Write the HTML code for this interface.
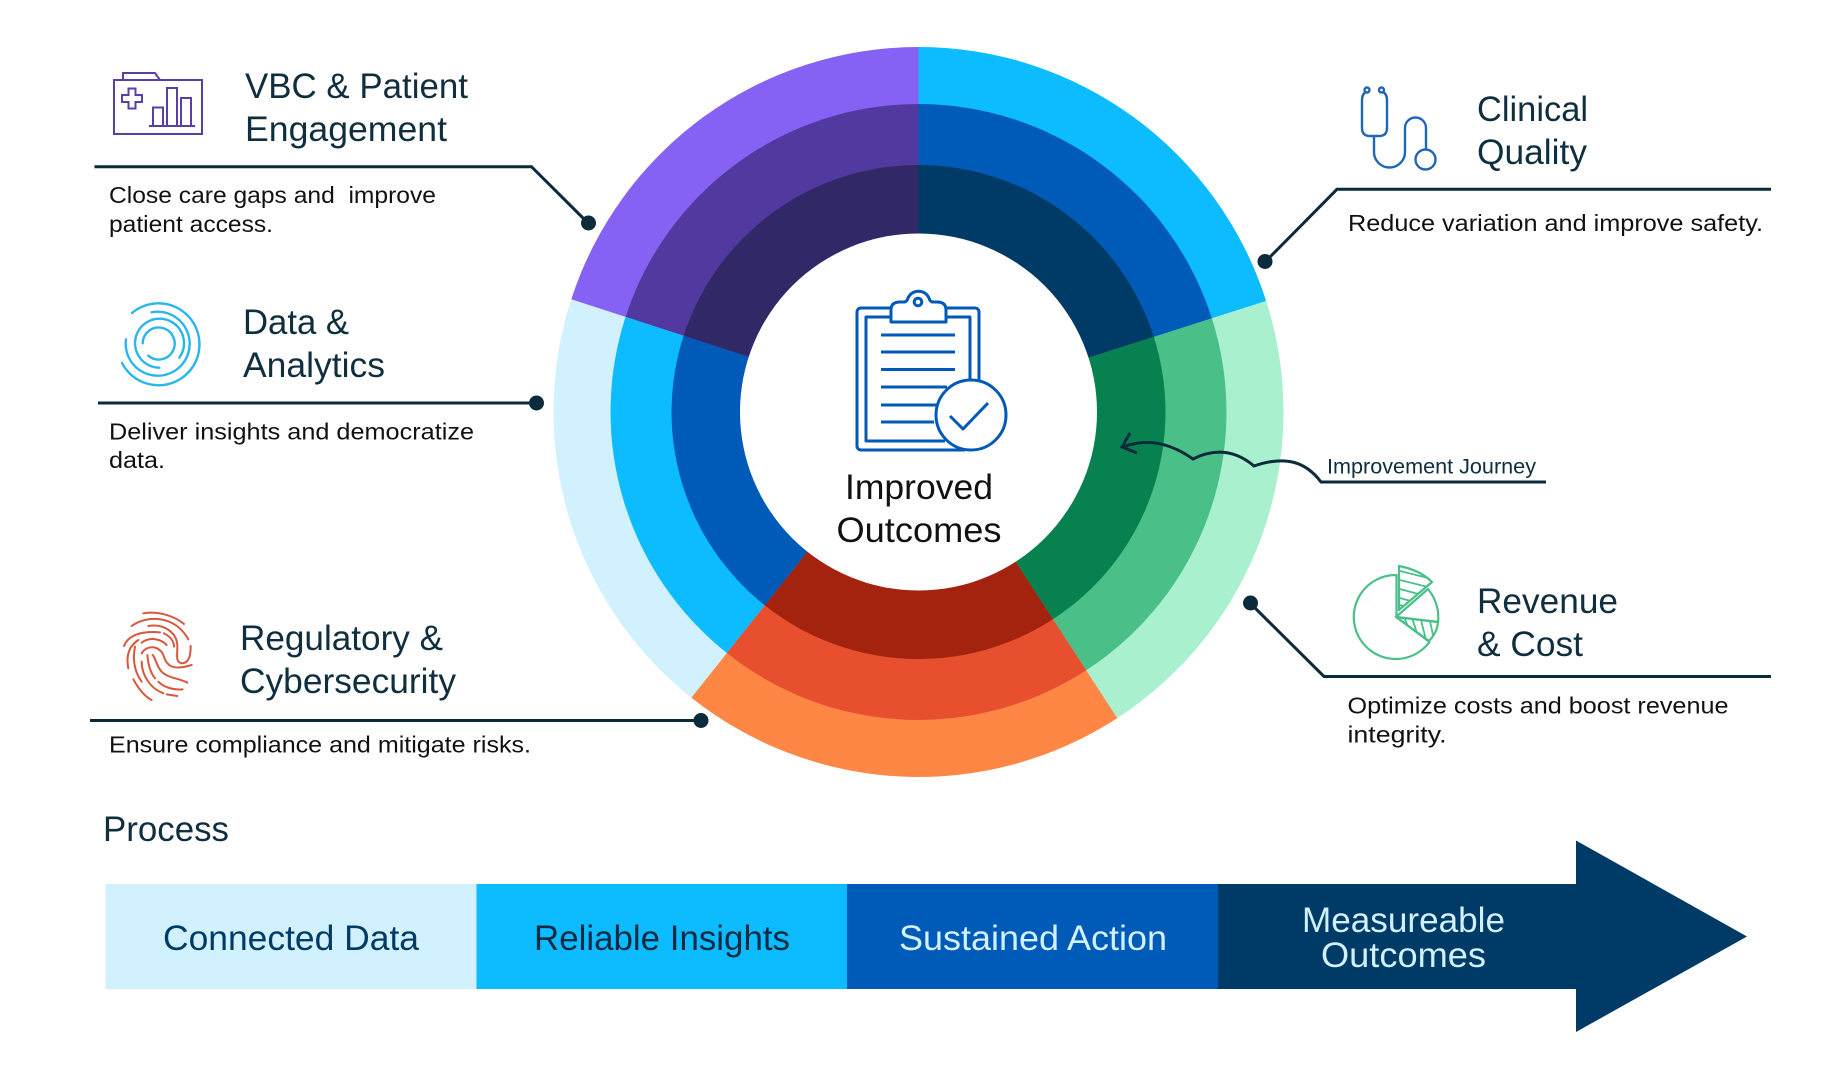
<!DOCTYPE html>
<html><head><meta charset="utf-8"><title>Improved Outcomes</title>
<style>
html,body{margin:0;padding:0;background:#fff;width:1837px;height:1084px;overflow:hidden}
svg{display:block}
text{font-family:"Liberation Sans",sans-serif}
.h{font-size:35px;fill:#0f2e3e}
.b{font-size:23.5px;fill:#111}
.l{stroke:#0b2a3b;stroke-width:3;fill:none}
.d{fill:#0b2a3b}
.p{font-size:35px}
</style></head><body>
<svg width="1837" height="1084" viewBox="0 0 1837 1084" xmlns="http://www.w3.org/2000/svg">
<defs>
<clipPath id="w1"><path d="M1399 566V610L1432 582Q1420 570 1399 566Z"/></clipPath>
<clipPath id="w2"><path d="M1396 617L1438 622Q1437 633 1429 641Z"/></clipPath>
</defs>
<rect width="1837" height="1084" fill="#fff"/>
<g transform="translate(-0.5,0)">
<path fill="#0DBBFF" d="M919 412L919 47A365 365 0 0 1 1266.7 301Z"/>
<path fill="#A9F0CF" d="M919 412L1266.7 301A365 365 0 0 1 1117.8 718.1Z"/>
<path fill="#FF8745" d="M919 412L1117.8 718.1A365 365 0 0 1 691.8 697.6Z"/>
<path fill="#D1F1FE" d="M919 412L691.8 697.6A365 365 0 0 1 571.8 299.2Z"/>
<path fill="#8562F4" d="M919 412L571.8 299.2A365 365 0 0 1 919 47Z"/>
<path fill="#005BB8" d="M919 412L919 104A308 308 0 0 1 1212.4 318.4Z"/>
<path fill="#4AC088" d="M919 412L1212.4 318.4A308 308 0 0 1 1086.7 670.3Z"/>
<path fill="#E84F2F" d="M919 412L1086.7 670.3A308 308 0 0 1 727.3 653Z"/>
<path fill="#0DBBFF" d="M919 412L727.3 653A308 308 0 0 1 626.1 316.8Z"/>
<path fill="#52399F" d="M919 412L626.1 316.8A308 308 0 0 1 919 104Z"/>
<path fill="#003A66" d="M919 412L919 165A247 247 0 0 1 1154.3 336.9Z"/>
<path fill="#07814F" d="M919 412L1154.3 336.9A247 247 0 0 1 1053.5 619.2Z"/>
<path fill="#A3230E" d="M919 412L1053.5 619.2A247 247 0 0 1 765.2 605.3Z"/>
<path fill="#005BB8" d="M919 412L765.2 605.3A247 247 0 0 1 684.1 335.7Z"/>
<path fill="#312967" d="M919 412L684.1 335.7A247 247 0 0 1 919 165Z"/>
<circle cx="919" cy="412" r="178.5" fill="#fff"/>
</g>

<!-- clipboard -->
<g fill="none" stroke="#0059B8" stroke-width="3" stroke-linejoin="round">
<path d="M890 308H861a4 4 0 0 0-4 4V446a4 4 0 0 0 4 4H965"/>
<path d="M946 308H975a4 4 0 0 1 4 4V380"/>
<path d="M890 317H866V441H945"/>
<path d="M946 317H970V382"/>
<path d="M891 322V310q0-8 9-8h4q3 0 4-4a11.500 11.500 0 0 1 21 0q1 4 4 4h4q9 0 9 8V322Z"/>
<circle cx="918" cy="302" r="3.800"/>
<path d="M881 335H955M881 352H955M881 369.500H955M881 387H947M881 405H937M881 422H934"/>
<circle cx="971" cy="415" r="35" fill="#fff"/>
<path d="M950 416L963 429L988 403" stroke-width="3"/>
</g>
<text x="919" y="499" text-anchor="middle" fill="#111" font-size="35" textLength="148" lengthAdjust="spacingAndGlyphs">Improved</text>
<text x="919" y="542" text-anchor="middle" fill="#111" font-size="35" textLength="165" lengthAdjust="spacingAndGlyphs">Outcomes</text>

<!-- VBC -->
<g fill="none" stroke="#5B3FA6" stroke-width="2">
<path d="M114 80H202V134H114Z"/>
<path d="M123 80V73H155L160 80"/>
<path d="M128.500 88.500h7v6.500h6.500v7h-6.500v6.500h-7v-6.500h-6.500v-7h6.500Z"/>
<path d="M149 126H195M153 126V107.500H163V126M167 126V88H177V126M181 126V98H191V126"/>
</g>
<text x="245" y="98" class="h" textLength="223" lengthAdjust="spacingAndGlyphs">VBC &amp; Patient</text>
<text x="245" y="141" class="h" textLength="202" lengthAdjust="spacingAndGlyphs">Engagement</text>
<path class="l" d="M94.500 166.700H531.500L588 223"/><circle class="d" cx="588.500" cy="223" r="7.500"/>
<text x="109" y="203" class="b" textLength="327" lengthAdjust="spacingAndGlyphs">Close care gaps and&#160; improve</text>
<text x="109" y="232" class="b" textLength="164" lengthAdjust="spacingAndGlyphs">patient access.</text>

<!-- Data -->
<g fill="none" stroke="#29B6EC" stroke-width="2.400" stroke-linecap="round">
<path d="M132 313A41 41 0 1 1 122 363"/>
<path d="M151.700 312.300A32 32 0 1 1 126 339.300"/>
<path d="M159.300 367.700A24.500 24.500 0 1 1 179.300 357.700"/>
<path d="M142.700 343.300A16 16 0 1 1 148.300 355.700"/>
</g>
<text x="243" y="334" class="h" textLength="106" lengthAdjust="spacingAndGlyphs">Data &amp;</text>
<text x="243" y="377" class="h" textLength="142" lengthAdjust="spacingAndGlyphs">Analytics</text>
<path class="l" d="M98 403H536"/><circle class="d" cx="536.500" cy="403" r="7.500"/>
<text x="109" y="439.500" class="b" textLength="365" lengthAdjust="spacingAndGlyphs">Deliver insights and democratize</text>
<text x="109" y="468" class="b" textLength="56" lengthAdjust="spacingAndGlyphs">data.</text>

<!-- Regulatory -->
<g transform="translate(100,600) scale(.33333)" fill="none" stroke="#D9573C" stroke-width="6" stroke-linecap="round">
<path d="M130 40C170 33 220 45 252 72"/>
<path d="M95 78C140 45 225 45 265 118"/>
<path d="M72 138C85 105 125 92 180 97"/>
<path d="M145 78C195 70 230 100 232 135C233 165 225 185 245 190C268 190 272 165 272 138"/>
<path d="M192 100C212 110 222 125 222 140"/>
<path d="M125 128C150 108 185 118 200 135"/>
<path d="M85 205C78 170 85 140 115 120"/>
<path d="M105 140C95 190 110 225 125 245"/>
<path d="M100 238C115 265 135 290 155 300"/>
<path d="M125 185C125 225 150 265 190 280"/>
<path d="M125 160C140 135 175 135 190 165C200 200 220 212 275 195"/>
<path d="M142 165C145 195 150 215 165 235"/>
<path d="M158 165C165 170 170 200 185 215C205 235 240 235 262 248"/>
<path d="M175 245C195 265 225 270 248 268"/>
<path d="M200 283L232 288"/>
</g>
<text x="240" y="650" class="h" textLength="203" lengthAdjust="spacingAndGlyphs">Regulatory &amp;</text>
<text x="240" y="693" class="h" textLength="216" lengthAdjust="spacingAndGlyphs">Cybersecurity</text>
<path class="l" d="M90 720.500H701"/><circle class="d" cx="701" cy="720.500" r="7.500"/>
<text x="109" y="752.500" class="b" textLength="422" lengthAdjust="spacingAndGlyphs">Ensure compliance and mitigate risks.</text>

<!-- Clinical -->
<g fill="none" stroke="#1F66B5" stroke-width="2.400">
<circle cx="1367" cy="90" r="2.500"/><circle cx="1381.500" cy="90" r="2.500"/>
<path d="M1366 92Q1362 94 1362 100V128Q1362 136 1370 136H1379Q1387 136 1387 128V100Q1387 94 1383 92"/>
<path d="M1374 136V152A15.500 15.500 0 0 0 1405 152V128A10.500 10.500 0 0 1 1426 128V149"/>
<circle cx="1425.500" cy="159.500" r="10"/>
</g>
<text x="1477" y="121" class="h" textLength="111" lengthAdjust="spacingAndGlyphs">Clinical</text>
<text x="1477" y="164" class="h" textLength="110" lengthAdjust="spacingAndGlyphs">Quality</text>
<path class="l" d="M1771 189.300H1337L1265 262"/><circle class="d" cx="1265" cy="261.500" r="7.500"/>
<text x="1348" y="231" class="b" textLength="415" lengthAdjust="spacingAndGlyphs">Reduce variation and improve safety.</text>

<!-- journey -->
<path fill="none" stroke="#0b2a3b" stroke-width="3" d="M1546 482H1321C1306 462 1286 455 1254 466C1241 455 1221 445 1193 459C1176 447 1151 436 1123 447M1130 433L1122 447L1137 453"/>
<text x="1327" y="473.500" font-size="21" fill="#0f2e3e" textLength="209" lengthAdjust="spacingAndGlyphs">Improvement Journey</text>

<!-- Revenue -->
<g fill="none" stroke="#48C087" stroke-width="2.200" stroke-linejoin="round">
<path d="M1396 575A42 42 0 1 0 1429 642L1396 617Z" transform="translate(.5,0)"/>
<path d="M1399 566V610L1432 582Q1420 570 1399 566Z"/>
<path d="M1396 617L1428 589Q1440 604 1438 622Z"/>
<path d="M1396 617L1438 622Q1437 633 1429 641Z"/>
<g clip-path="url(#w1)" stroke-width="1.800"><path d="M1396 570L1428 578M1396 579L1432 588M1396 588L1426 596M1396 597L1418 603M1396 604L1410 608"/></g>
<g clip-path="url(#w2)" stroke-width="1.800"><path d="M1402 612L1411 634M1410 612L1420 642M1419 612L1427 644M1428 612L1435 644"/></g>
</g>
<text x="1477" y="613" class="h" textLength="141" lengthAdjust="spacingAndGlyphs">Revenue</text>
<text x="1477" y="656" class="h" textLength="106" lengthAdjust="spacingAndGlyphs">&amp; Cost</text>
<path class="l" d="M1250 603L1324 676.500H1771"/><circle class="d" cx="1250.500" cy="603" r="7.500"/>
<text x="1347.500" y="713.500" class="b" textLength="381" lengthAdjust="spacingAndGlyphs">Optimize costs and boost revenue</text>
<text x="1347.500" y="742.500" class="b" textLength="99" lengthAdjust="spacingAndGlyphs">integrity.</text>

<!-- Process -->
<text x="103" y="841" class="h" textLength="126" lengthAdjust="spacingAndGlyphs">Process</text>
<rect x="105.500" y="884" width="371" height="105" fill="#D1F1FE"/>
<rect x="476.500" y="884" width="370.500" height="105" fill="#0DBBFF"/>
<rect x="847" y="884" width="371" height="105" fill="#005BB8"/>
<path d="M1218 884H1576V840.500L1747 936.500L1576 1032V989H1218Z" fill="#003A66"/>
<text x="163" y="950" class="p" fill="#003A66" textLength="256" lengthAdjust="spacingAndGlyphs">Connected Data</text>
<text x="534" y="950" class="p" fill="#0b2a44" textLength="256" lengthAdjust="spacingAndGlyphs">Reliable Insights</text>
<text x="899" y="950" class="p" fill="#D1F1FE" textLength="268" lengthAdjust="spacingAndGlyphs">Sustained Action</text>
<text x="1302" y="932" class="p" fill="#D1F1FE" textLength="203" lengthAdjust="spacingAndGlyphs">Measureable</text>
<text x="1321" y="967" class="p" fill="#D1F1FE" textLength="165" lengthAdjust="spacingAndGlyphs">Outcomes</text>
</svg>
</body></html>
